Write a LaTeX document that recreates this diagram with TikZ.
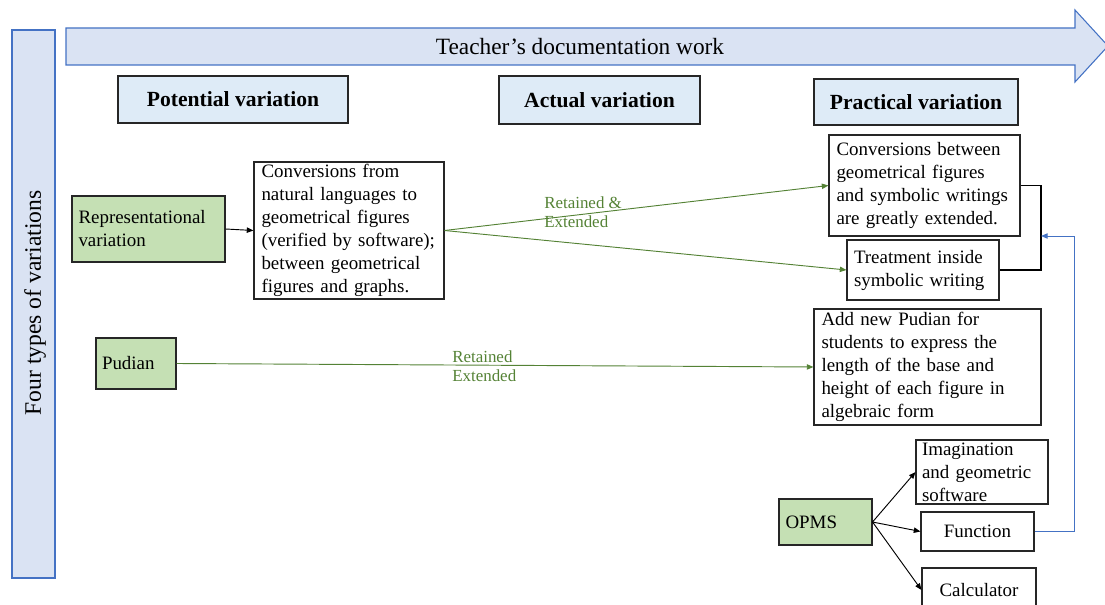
\documentclass[tikz,border=0pt]{standalone}
\usepackage{fontspec}
\setmainfont{Liberation Serif}
\usetikzlibrary{arrows.meta}
\definecolor{barfill}{HTML}{DAE3F3}
\definecolor{barline}{HTML}{4472C4}
\definecolor{headfill}{HTML}{DEEBF7}
\definecolor{greenfill}{HTML}{C5E0B4}
\definecolor{greenline}{HTML}{548235}
\definecolor{blueline}{HTML}{4472C4}
\begin{document}
\begin{tikzpicture}[x=0.75pt,y=-0.75pt,
  box/.style={draw=black!85, line width=0.8pt, rectangle, inner sep=0pt},
  body/.style={font=\fontsize{14.2}{17.25}\selectfont, align=left},
  head/.style={box, fill=headfill, font=\fontsize{16.2}{18}\selectfont\bfseries},
  gbox/.style={box, fill=greenfill},
  blk/.style={draw=black, line width=0.7pt, -{Triangle[length=5pt,width=4pt]}},
  grn/.style={draw=greenline, line width=0.7pt, -{Triangle[length=5pt,width=4pt]}},
  glab/.style={text=greenline, font=\fontsize{12.7}{14.25}\selectfont, align=left, anchor=west, inner sep=0pt},
  blu/.style={draw=blueline, line width=0.7pt, -{Triangle[length=5pt,width=4pt]}}]
\useasboundingbox (0,0) rectangle (1105,605);
\clip (0,0) rectangle (1105,605);

% left bar
\draw[draw=barline, fill=barfill, line width=0.8pt] (12,30) rectangle (55,578);
\node[rotate=90, font=\fontsize{17.7}{19}\selectfont] (four) at (35,303) {Four types of variations};

% top arrow
\draw[draw=barline, fill=barfill, line width=0.8pt] (66,28) -- (1075,28) -- (1075,10) -- (1108,46) -- (1075,82) -- (1075,65) -- (66,65) -- cycle;
\node[font=\fontsize{17.5}{19}\selectfont] (title) at (580,47) {Teacher’s documentation work};

% headers
\node[head, minimum width={230*0.75pt}, minimum height={47*0.75pt}] (pot) at (233,99.5) {Potential variation};
\node[head, minimum width={201*0.75pt}, minimum height={48*0.75pt}] (act) at (599.5,100) {Actual variation};
\node[head, minimum width={204*0.75pt}, minimum height={46*0.75pt}] (prac) at (916,102) {Practical variation};

% representational
\node[gbox, body, minimum width={153*0.75pt}, minimum height={66*0.75pt}, text width={140*0.75pt}] (rep) at (148.5,229) {Representational\\variation};
\node[box, body, minimum width={190*0.75pt}, minimum height={137*0.75pt}, text width={175*0.75pt}] (conv) at (349,230.5) {Conversions from\\natural languages to\\geometrical figures\\(verified by software);\\between geometrical\\figures and graphs.};
\node[box, body, minimum width={191*0.75pt}, minimum height={101*0.75pt}, text width={176*0.75pt}] (convb) at (924.5,185.5) {Conversions between\\geometrical figures\\and symbolic writings\\are greatly extended.};
\node[box, body, minimum width={152*0.75pt}, minimum height={60*0.75pt}, text width={138*0.75pt}] (treat) at (923,270) {Treatment inside\\symbolic writing};

\draw[blk] (rep.east) -- (conv.west);
\draw[grn] (conv.east) -- (convb.west);
\draw[grn] (conv.east) -- (treat.west);
\node[glab] (lab1) at (544,212.5) {Retained \&\\Extended};

\coordinate (brk) at (1041,236);
\coordinate (bturn) at (1074,236);
\draw[line width=0.8pt] (convb.east) -- (1041,185.5) |- (treat.east);

% Pudian
\node[gbox, body, minimum width={80*0.75pt}, minimum height={51*0.75pt}, text width={68*0.75pt}] (pud) at (136,363.5) {Pudian};
\node[box, body, minimum width={227*0.75pt}, minimum height={116*0.75pt}, text width={212*0.75pt}] (add) at (927.5,367) {Add new Pudian for\\students to express the\\length of the base and\\height of each figure in\\algebraic form};
\draw[grn] (pud.east) -- (add.west);
\node[glab] (lab2) at (452,366) {Retained\\Extended};

% OPMS
\node[gbox, body, minimum width={93*0.75pt}, minimum height={46*0.75pt}, text width={80*0.75pt}] (opms) at (825.5,522) {OPMS};
\node[box, body, minimum width={132*0.75pt}, minimum height={64*0.75pt}, text width={120*0.75pt}] (imag) at (982,472) {Imagination\\and geometric\\software};
\node[box, body, minimum width={113*0.75pt}, minimum height={39*0.75pt}] (func) at (977.5,531.5) {Function};
\node[box, body, minimum width={114*0.75pt}, minimum height={44*0.75pt}] (calc) at (979,590) {Calculator};

\draw[blk] (opms.east) -- (imag.west);
\draw[blk] (opms.east) -- (func.west);
\draw[blk] (opms.east) -- (calc.west);

\draw[blu] (func.east) -| (bturn) -- (brk);
\end{tikzpicture}
\end{document}
